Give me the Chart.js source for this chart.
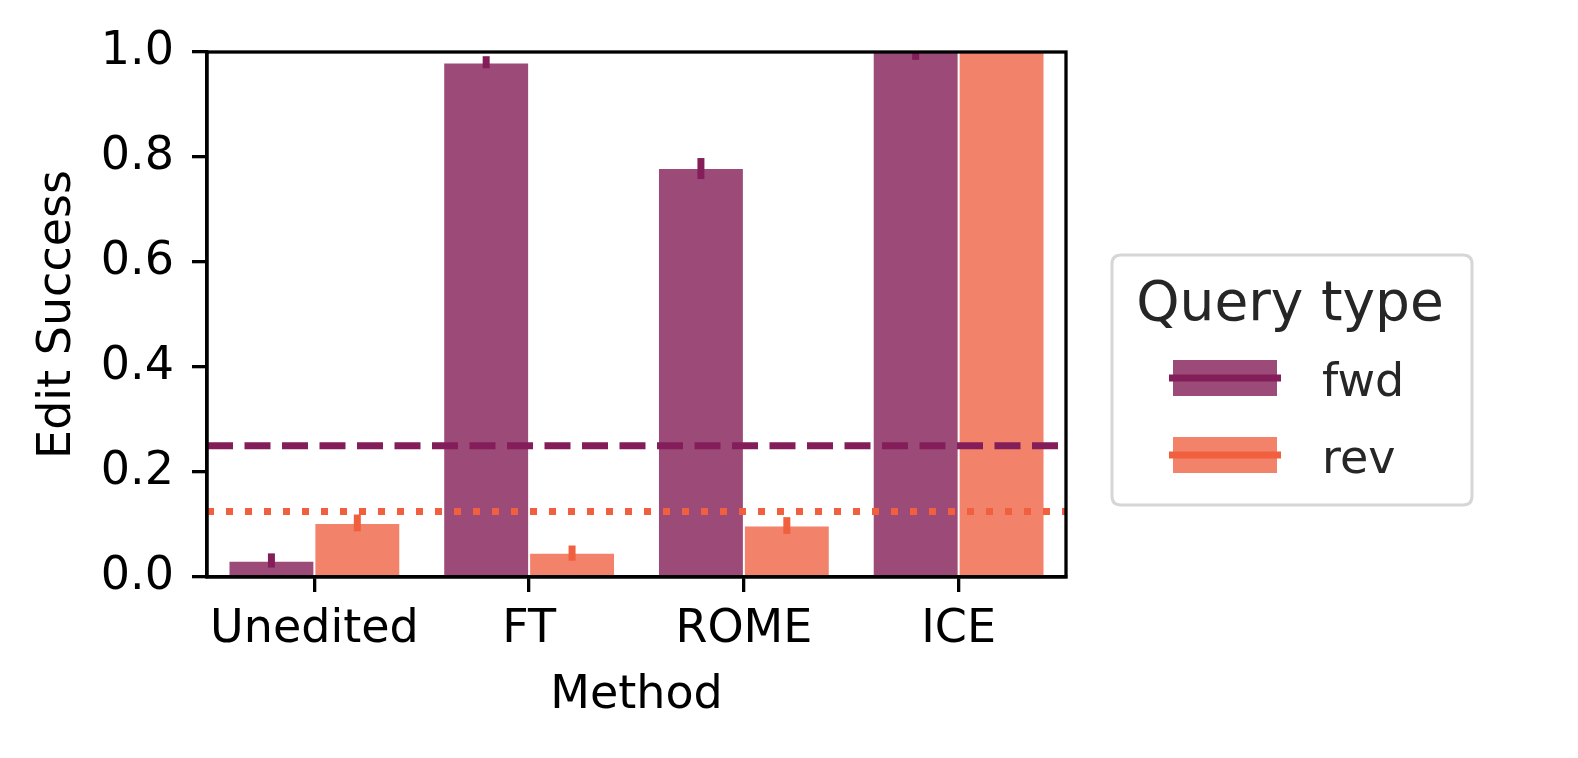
<!DOCTYPE html>
<html>
<head>
<meta charset="utf-8">
<script src="https://cdn.jsdelivr.net/npm/chart.js@4.4.1/dist/chart.umd.min.js"></script>
<style>
  html, body { margin: 0; padding: 0; background: #ffffff; }
  canvas { display: block; }
</style>
</head>
<body>
<canvas id="c" width="1578" height="758" style="width:1578px;height:758px"></canvas>
<script>
// ---- data ----
const categories = ['Unedited', 'FT', 'ROME', 'ICE'];
const seriesNames = ['fwd', 'rev'];
const fwdValues = [0.031, 0.980, 0.779, 1.000];
const revValues = [0.103, 0.046, 0.098, 1.000];
const fwdErrLow  = [0.018, 0.969, 0.758, 0.985];
const fwdErrHigh = [0.045, 0.992, 0.798, 1.000];
const revErrLow  = [0.087, 0.031, 0.082, 1.000];
const revErrHigh = [0.119, 0.060, 0.114, 1.000];
const yTicks = [0.0, 0.2, 0.4, 0.6, 0.8, 1.0];
const fwdChance = 0.25;   // dashed reference line
const revChance = 0.125;  // dotted reference line

// ---- styles ----
const FONT = "'DejaVu Sans', 'Noto Sans', sans-serif";
const fillColors = ['#9c4a78', '#f2826a'];
const lineColors = ['#841e5a', '#f0603e'];
const errLow = [fwdErrLow, revErrLow];
const errHigh = [fwdErrHigh, revErrHigh];

const overlayPlugin = {
  id: 'overlay',
  afterDatasetsDraw(chart) {
    const ctx = chart.ctx;
    const y = chart.scales.y;
    const a = chart.chartArea;
    ctx.save();
    ctx.beginPath();
    ctx.rect(a.left, a.top, a.right - a.left, a.bottom - a.top);
    ctx.clip();
    // error bars
    chart.data.datasets.forEach((ds, i) => {
      const meta = chart.getDatasetMeta(i);
      ctx.strokeStyle = lineColors[i];
      ctx.lineWidth = 7;
      ctx.lineCap = 'butt';
      meta.data.forEach((el, j) => {
        const lo = errLow[i][j], hi = errHigh[i][j];
        if (hi - lo <= 0) return;
        ctx.beginPath();
        ctx.moveTo(el.x, y.getPixelForValue(lo));
        ctx.lineTo(el.x, y.getPixelForValue(hi));
        ctx.stroke();
      });
    });
    // reference lines
    const drawH = (v, color, dash) => {
      const py = y.getPixelForValue(v);
      ctx.beginPath();
      ctx.setLineDash(dash);
      ctx.strokeStyle = color;
      ctx.lineWidth = 7;
      ctx.moveTo(a.left, py);
      ctx.lineTo(a.right, py);
      ctx.stroke();
    };
    drawH(fwdChance, lineColors[0], [26, 11.5]);
    drawH(revChance, lineColors[1], [7, 12]);
    ctx.restore();
  },
  afterDraw(chart) {
    const ctx = chart.ctx;
    const a = chart.chartArea;
    ctx.save();
    // spines
    ctx.strokeStyle = '#000';
    ctx.lineWidth = 3.3;
    ctx.setLineDash([]);
    ctx.strokeRect(a.left, a.top, a.right - a.left, a.bottom - a.top);

    // legend
    const bx = 1112, by = 255, bw = 360, bh = 250, r = 9;
    ctx.beginPath();
    ctx.moveTo(bx + r, by);
    ctx.lineTo(bx + bw - r, by);
    ctx.quadraticCurveTo(bx + bw, by, bx + bw, by + r);
    ctx.lineTo(bx + bw, by + bh - r);
    ctx.quadraticCurveTo(bx + bw, by + bh, bx + bw - r, by + bh);
    ctx.lineTo(bx + r, by + bh);
    ctx.quadraticCurveTo(bx, by + bh, bx, by + bh - r);
    ctx.lineTo(bx, by + r);
    ctx.quadraticCurveTo(bx, by, bx + r, by);
    ctx.closePath();
    ctx.fillStyle = 'rgba(255,255,255,0.85)';
    ctx.fill();
    ctx.strokeStyle = '#d6d6d6';
    ctx.lineWidth = 3;
    ctx.stroke();

    ctx.fillStyle = '#262626';
    ctx.font = '55px ' + FONT;
    ctx.textAlign = 'center';
    ctx.textBaseline = 'alphabetic';
    ctx.fillText('Query type', 1290, 320);

    const rows = [378, 455];
    chart.data.datasets.forEach((ds, i) => {
      const cy = rows[i];
      ctx.fillStyle = fillColors[i];
      ctx.fillRect(1173, cy - 18, 104, 36);
      ctx.strokeStyle = lineColors[i];
      ctx.lineWidth = 7;
      ctx.beginPath();
      ctx.moveTo(1169, cy);
      ctx.lineTo(1281, cy);
      ctx.stroke();
      ctx.fillStyle = '#262626';
      ctx.font = '46px ' + FONT;
      ctx.textAlign = 'left';
      ctx.textBaseline = 'alphabetic';
      ctx.fillText(ds.label, 1322, cy + 18);
    });
    ctx.restore();
  }
};

new Chart(document.getElementById('c'), {
  type: 'bar',
  data: {
    labels: categories,
    datasets: [
      { label: seriesNames[0], data: fwdValues, backgroundColor: fillColors[0],
        borderColor: 'rgba(255,255,255,0.2)', borderWidth: 1 },
      { label: seriesNames[1], data: revValues, backgroundColor: fillColors[1],
        borderColor: 'rgba(255,255,255,0.2)', borderWidth: 1 }
    ]
  },
  options: {
    responsive: false,
    devicePixelRatio: 1,
    animation: false,
    datasets: { bar: { categoryPercentage: 0.8, barPercentage: 1.0 } },
    layout: { padding: { top: 52, right: 512, left: 0, bottom: 0 } },
    plugins: { legend: { display: false }, tooltip: { enabled: false } },
    scales: {
      x: {
        offset: true,
        grid: { display: true, drawOnChartArea: false, drawTicks: true, offset: false,
                tickLength: 15, color: '#000', lineWidth: 3.3 },
        border: { display: true, color: '#000', width: 3.3 },
        ticks: { color: '#000', font: { family: FONT, size: 46 }, padding: 10, maxRotation: 0 },
        title: { display: true, text: 'Method', color: '#000',
                 font: { family: FONT, size: 46 }, padding: { top: 0, bottom: 34 } },
        afterFit(s) { s.height = 181; }
      },
      y: {
        min: 0, max: 1,
        afterBuildTicks(s) { s.ticks = yTicks.map(v => ({ value: v })); },
        grid: { display: true, drawOnChartArea: false, drawTicks: true,
                tickLength: 15, color: '#000', lineWidth: 3.3 },
        border: { display: true, color: '#000', width: 3.3 },
        ticks: { color: '#000', font: { family: FONT, size: 46 }, padding: 18,
                 callback: v => Number(v).toFixed(1) },
        title: { display: true, text: 'Edit Success', color: '#000',
                 font: { family: FONT, size: 46 }, padding: { top: 30, bottom: 0 } },
        afterFit(s) { s.width = 207; }
      }
    }
  },
  plugins: [overlayPlugin]
});
</script>
</body>
</html>
